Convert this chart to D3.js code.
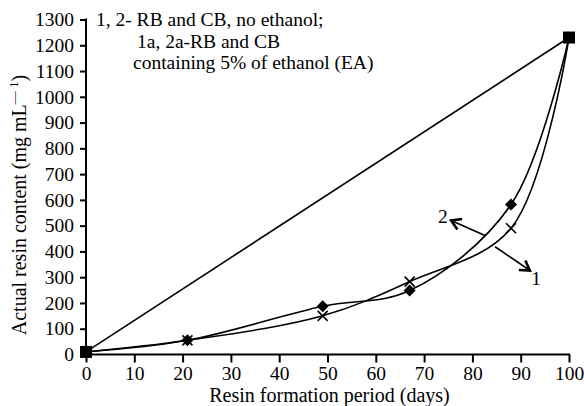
<!DOCTYPE html>
<html>
<head>
<meta charset="utf-8">
<script src="https://cdn.jsdelivr.net/npm/d3@7"></script>
<style>
  html, body { margin: 0; padding: 0; background: #fff; }
  svg { display: block; }
</style>
</head>
<body>
<svg id="chart" width="584" height="406"></svg>
<script>
// ---- data ----
const days = [0, 21, 49, 67, 88, 100];
const series1 = [10, 55, 150, 283, 490, 1230];   // crosses (curve 1)
const series2 = [10, 55, 187, 248, 582, 1230];   // diamonds (curve 2)
const straightDays = [0, 100];
const straightVals = [10, 1230];
const xTicks = [0, 10, 20, 30, 40, 50, 60, 70, 80, 90, 100];
const yTicks = [0, 100, 200, 300, 400, 500, 600, 700, 800, 900, 1000, 1100, 1200, 1300];
const legendLines = ["1, 2- RB and CB, no ethanol;", "1a, 2a-RB and CB", "containing 5% of ethanol (EA)"];
// annotation arrows: [fromDay, fromVal, toDay, toVal, label, labelDay, labelVal]
const arrows = [
  [82.6, 462, 75.6, 520, "2", 73.9, 510],
  [84.7, 418, 91.9, 326, "1", 93.2, 268]
];

const FONT = '"Liberation Serif", "DejaVu Serif", "Times New Roman", serif';
const svg = d3.select("#chart");
const x = d3.scaleLinear().domain([0, 100]).range([86, 569]);
const y = d3.scaleLinear().domain([0, 1300]).range([354.5, 19.5]);

// axes
const fmt = d3.format("d");
const xAxis = d3.axisBottom(x).tickValues(xTicks).tickFormat(fmt).tickSize(8).tickPadding(4).tickSizeOuter(0);
const yAxis = d3.axisLeft(y).tickValues(yTicks).tickFormat(fmt).tickSize(6).tickPadding(6).tickSizeOuter(0);

const gx = svg.append("g").attr("transform", `translate(0,${y(0)})`).call(xAxis);
const gy = svg.append("g").attr("transform", `translate(${x(0)},0)`).call(yAxis);
[gx, gy].forEach(g => {
  g.attr("font-family", null).attr("font-size", null);
  g.select(".domain").attr("stroke", "#000").attr("stroke-width", 2);
  g.selectAll(".tick line").attr("stroke", "#000").attr("stroke-width", 2);
  g.selectAll(".tick text").style("font-family", FONT).style("font-size", "19.5px").attr("fill", "#000");
});
gx.select(".domain").attr("d", `M${x(0)},0H${x(100) + 1}`);
gy.select(".domain").attr("d", `M0,${y(0)}V${y(1300) - 1}`);

function txt(sel, size) { return sel.style("font-family", FONT).style("font-size", (size || 19.5) + "px").attr("fill", "#000"); }

// axis titles
txt(svg.append("text"), 20).attr("x", (x(0) + x(100)) / 2 + 2).attr("y", 402)
  .attr("text-anchor", "middle").text("Resin formation period (days)");

const yt = txt(svg.append("text"), 20).attr("transform", `translate(26,${205}) rotate(-90)`)
  .attr("text-anchor", "middle");
yt.append("tspan").text("Actual resin content (mg mL");
yt.append("tspan").style("font-size", "13px").attr("dy", -8).text("\u2014 1");
yt.append("tspan").attr("dy", 8).text(")");

// straight line
const lineStraight = d3.line().x((d, i) => x(straightDays[i])).y(d => y(d));
svg.append("path").attr("d", lineStraight(straightVals))
  .attr("fill", "none").attr("stroke", "#000").attr("stroke-width", 1.6);

// curves
const curve = d3.line().x((d, i) => x(days[i])).y(d => y(d)).curve(d3.curveCatmullRom.alpha(0.5));
[series1, series2].forEach(s => {
  svg.append("path").attr("d", curve(s))
    .attr("fill", "none").attr("stroke", "#000").attr("stroke-width", 1.6);
});

// markers
const inner = d3.range(1, days.length - 1);
svg.selectAll(".cross").data(inner).enter().append("path")
  .attr("d", i => {
    const cx = x(days[i]), cy = y(series1[i]), r = 5;
    return `M${cx - r},${cy - r}L${cx + r},${cy + r}M${cx - r},${cy + r}L${cx + r},${cy - r}`;
  })
  .attr("stroke", "#000").attr("stroke-width", 1.6).attr("fill", "none");

svg.selectAll(".diamond").data(inner).enter().append("path")
  .attr("d", i => {
    const cx = x(days[i]), cy = y(series2[i]), r = 6;
    return `M${cx},${cy - r}L${cx + r},${cy}L${cx},${cy + r}L${cx - r},${cy}Z`;
  })
  .attr("fill", "#000");

svg.selectAll(".sq").data(straightVals).enter().append("rect")
  .attr("x", (d, i) => x(straightDays[i]) - 6)
  .attr("y", d => y(d) - 6)
  .attr("width", 12).attr("height", 12).attr("fill", "#000");

// legend text
const lx = [96, 137, 133];
const ly = [26, 47.5, 69];
legendLines.forEach((t, i) => {
  txt(svg.append("text")).attr("x", lx[i]).attr("y", ly[i]).text(t);
});

// arrows
arrows.forEach(a => {
  const x1 = x(a[0]), y1 = y(a[1]), x2 = x(a[2]), y2 = y(a[3]);
  svg.append("line").attr("x1", x1).attr("y1", y1).attr("x2", x2).attr("y2", y2)
    .attr("stroke", "#000").attr("stroke-width", 1.6);
  const ang = Math.atan2(y2 - y1, x2 - x1);
  const L = 11, spread = 0.55;
  const p1 = [x2 - L * Math.cos(ang - spread), y2 - L * Math.sin(ang - spread)];
  const p2 = [x2 - L * Math.cos(ang + spread), y2 - L * Math.sin(ang + spread)];
  svg.append("path").attr("d", `M${p1[0]},${p1[1]}L${x2},${y2}L${p2[0]},${p2[1]}`)
    .attr("fill", "none").attr("stroke", "#000").attr("stroke-width", 2.6)
    .attr("stroke-linejoin", "miter");
  txt(svg.append("text")).attr("x", x(a[5])).attr("y", y(a[6]))
    .attr("text-anchor", "middle").text(a[4]);
});
</script>
</body>
</html>
